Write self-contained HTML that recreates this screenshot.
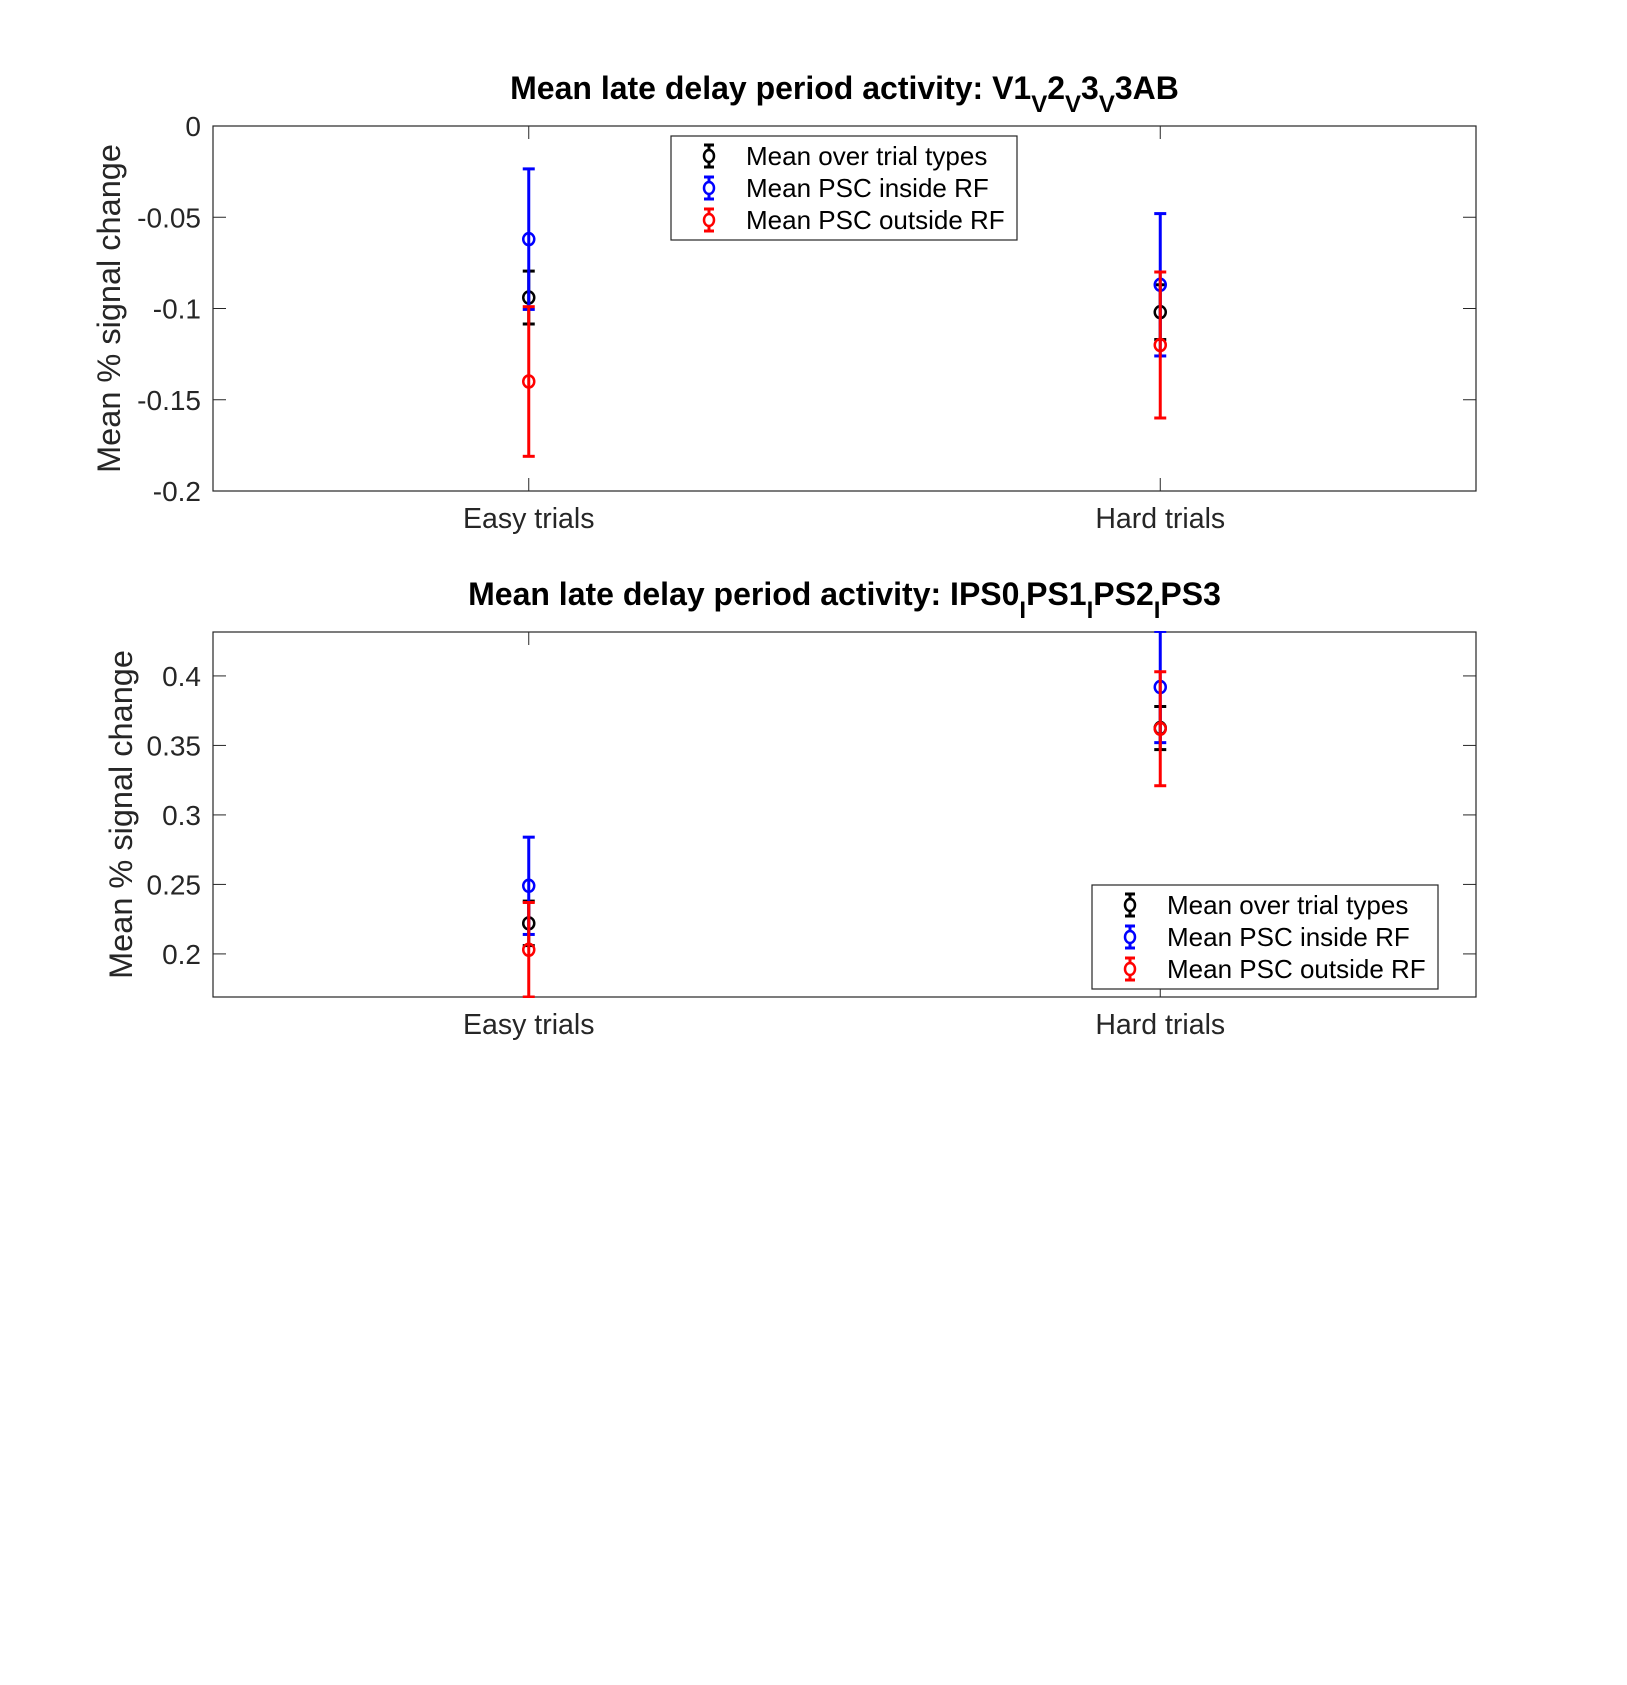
<!DOCTYPE html>
<html><head><meta charset="utf-8"><style>
body{margin:0;background:#fff;}
svg{display:block;font-family:"Liberation Sans",Arial,sans-serif;}
</style></head><body>
<svg id="fig" width="1627" height="1685" viewBox="0 0 1627 1685" xmlns="http://www.w3.org/2000/svg"></svg>
<script>
const categories = ["Easy trials","Hard trials"];
const seriesNames = ["Mean over trial types","Mean PSC inside RF","Mean PSC outside RF"];
const seriesColors = ["#000000","#0000ff","#ff0000"];
// plot 1 (visual)
const p1Means = [[-0.094,-0.102],[-0.062,-0.087],[-0.140,-0.120]];
const p1Errs  = [[0.0145,0.015],[0.0385,0.039],[0.041,0.040]];
const p1Ticks = [0,-0.05,-0.1,-0.15,-0.2];
const p1TickLabels = ["0","-0.05","-0.1","-0.15","-0.2"];
// plot 2 (parietal)
const p2Means = [[0.222,0.3625],[0.249,0.392],[0.203,0.362]];
const p2Errs  = [[0.016,0.0155],[0.035,0.040],[0.034,0.041]];
const p2Ticks = [0.2,0.25,0.3,0.35,0.4];
const p2TickLabels = ["0.2","0.25","0.3","0.35","0.4"];

const NS="http://www.w3.org/2000/svg";
const svg=document.getElementById('fig');
function mk(tag,attrs,parent){const e=document.createElementNS(NS,tag);for(const k in attrs)e.setAttribute(k,attrs[k]);(parent||svg).appendChild(e);return e;}

function drawPlot(cfg){
  const g=mk('g',{});
  
  
  const L=213,R=1476,T=cfg.top,B=cfg.bottom;
  const y=v=>B-(v-cfg.ymin)/(cfg.ymax-cfg.ymin)*(B-T);
  const xs=[L+(R-L)*0.25,L+(R-L)*0.75];
  const clipId='clip'+cfg.id;
  const cp=mk('clipPath',{id:clipId},g);
  mk('rect',{x:L,y:T-1,width:R-L,height:B-T+2},cp);
  const box=mk('rect',{x:L,y:T,width:R-L,height:B-T,fill:'none',stroke:'#262626','stroke-width':1.2},g);
  
  
  cfg.ticks.forEach((t,i)=>{
    const yy=y(t);
    mk('line',{x1:L,x2:L+13,y1:yy,y2:yy,stroke:'#262626','stroke-width':1},g);
    mk('line',{x1:R,x2:R-13,y1:yy,y2:yy,stroke:'#262626','stroke-width':1},g);
    const tx=mk('text',{x:L-12,y:yy+10,'text-anchor':'end','font-size':28,fill:'#262626'},g);
    tx.textContent=cfg.tickLabels[i];
    
    
  });
  categories.forEach((c,i)=>{
    mk('line',{x1:xs[i],x2:xs[i],y1:T,y2:T+13,stroke:'#262626','stroke-width':1},g);
    mk('line',{x1:xs[i],x2:xs[i],y1:B,y2:B-13,stroke:'#262626','stroke-width':1},g);
    const tx=mk('text',{x:xs[i],y:B+37,'text-anchor':'middle','font-size':28.5,fill:'#262626'},g);
    tx.textContent=c;
    
    
  });
  const yl=mk('text',{x:0,y:0,transform:`translate(${cfg.ylabelX},${(T+B)/2}) rotate(-90)`,'text-anchor':'middle','font-size':32.5,fill:'#262626'},g);
  yl.textContent='Mean % signal change';
  
  
  const ti=mk('text',{x:(L+R)/2,y:T-27,'text-anchor':'middle','font-size':32,'font-weight':'bold',fill:'#000'},g);
  
  
  ti.innerHTML=cfg.titleHTML;
  const dg=mk('g',{'clip-path':`url(#${clipId})`},g);
  const order=[0,1,2];
  order.forEach(s=>{
    categories.forEach((c,i)=>{
      const m=cfg.means[s][i],e=cfg.errs[s][i],col=seriesColors[s];
      const eg=mk('g',{},dg);
      
      
      mk('line',{x1:xs[i],x2:xs[i],y1:y(m+e),y2:y(m-e),stroke:col,'stroke-width':3},eg);
      mk('line',{x1:xs[i]-6,x2:xs[i]+6,y1:y(m+e),y2:y(m+e),stroke:col,'stroke-width':3},eg);
      mk('line',{x1:xs[i]-6,x2:xs[i]+6,y1:y(m-e),y2:y(m-e),stroke:col,'stroke-width':3},eg);
      mk('ellipse',{cx:xs[i],cy:y(m),rx:5.5,ry:6,fill:'none',stroke:col,'stroke-width':2.5},eg);
    });
  });
  const lg=mk('g',{},g);
  
  
  mk('rect',{x:cfg.legX,y:cfg.legY,width:346,height:104,fill:'#fff',stroke:'#262626','stroke-width':1.2},lg);
  seriesNames.forEach((n,s)=>{
    const cy=cfg.legY+20+s*32,cx=cfg.legX+38,col=seriesColors[s];
    const en=mk('g',{},lg);
    
    
    mk('line',{x1:cx,x2:cx,y1:cy-11,y2:cy+11,stroke:col,'stroke-width':3},en);
    mk('line',{x1:cx-5,x2:cx+5,y1:cy-11,y2:cy-11,stroke:col,'stroke-width':3},en);
    mk('line',{x1:cx-5,x2:cx+5,y1:cy+11,y2:cy+11,stroke:col,'stroke-width':3},en);
    mk('ellipse',{cx:cx,cy:cy,rx:5,ry:6,fill:'#fff',stroke:col,'stroke-width':2.5},en);
    const t=mk('text',{x:cfg.legX+75,y:cy+9,'font-size':26,fill:'#000'},en);
    t.textContent=n;
  });
}
drawPlot({id:1,name:'plot-visual',top:126,bottom:491,ymin:-0.2,ymax:0,ticks:p1Ticks,tickLabels:p1TickLabels,means:p1Means,errs:p1Errs,ylabelX:120,legX:671,legY:136,
  titleHTML:'Mean late delay period activity: V1<tspan dy="13" font-size="24">V</tspan><tspan dy="-13">2</tspan><tspan dy="13" font-size="24">V</tspan><tspan dy="-13">3</tspan><tspan dy="13" font-size="24">V</tspan><tspan dy="-13">3AB</tspan>'});
drawPlot({id:2,name:'plot-parietal',top:632,bottom:997,ymin:0.169,ymax:0.4316,ticks:p2Ticks,tickLabels:p2TickLabels,means:p2Means,errs:p2Errs,ylabelX:132,legX:1092,legY:885,
  titleHTML:'Mean late delay period activity: IPS0<tspan dy="13" font-size="24">I</tspan><tspan dy="-13">PS1</tspan><tspan dy="13" font-size="24">I</tspan><tspan dy="-13">PS2</tspan><tspan dy="13" font-size="24">I</tspan><tspan dy="-13">PS3</tspan>'});
</script>
</body></html>
